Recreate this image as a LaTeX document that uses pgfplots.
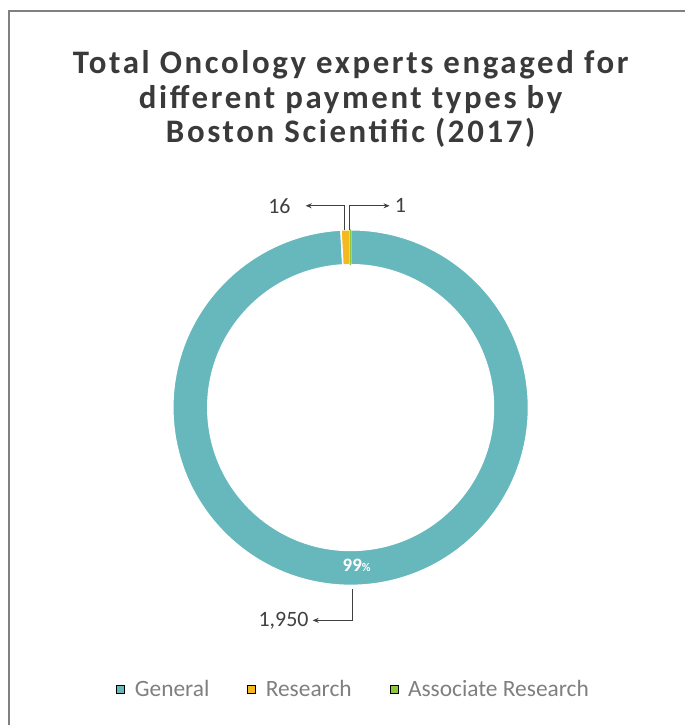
\documentclass[border=0pt]{standalone}
\usepackage{pgfplots}
\pgfplotsset{compat=1.18}
\usepackage{pgfplotstable}
\usetikzlibrary{arrows.meta}
\usepackage{fontspec}
\setmainfont{Carlito}
\newfontfamily\titlefont[LetterSpace=8]{Carlito}

\definecolor{cGen}{RGB}{102,184,188}
\definecolor{cRes}{RGB}{244,185,30}
\definecolor{cAss}{RGB}{141,198,63}
\definecolor{cTitle}{RGB}{58,58,58}
\definecolor{cLab}{RGB}{64,64,64}
\definecolor{cLeg}{RGB}{127,127,127}
\definecolor{cFrame}{RGB}{128,128,128}

\pgfplotstableread{
name value
General 1950
Research 16
AssociateResearch 1
}\donutdata

\begin{document}
\begin{tikzpicture}
\pgfplotstablegetelem{0}{value}\of\donutdata \pgfmathsetmacro\vA{\pgfplotsretval}
\pgfplotstablegetelem{1}{value}\of\donutdata \pgfmathsetmacro\vB{\pgfplotsretval}
\pgfplotstablegetelem{2}{value}\of\donutdata \pgfmathsetmacro\vC{\pgfplotsretval}
\pgfmathsetmacro\tot{\vA+\vB+\vC}
\pgfmathsetmacro\fA{\vA/\tot}
\pgfmathsetmacro\fB{\vB/\tot}
\pgfmathsetmacro\fC{\vC/\tot}
\pgfmathsetmacro\aA{90}
\pgfmathsetmacro\aB{90-360*\fA}
\pgfmathsetmacro\aC{\aB-360*\fB}
\pgfmathsetmacro\aD{\aC-360*\fC}
\pgfmathtruncatemacro\pct{round(100*\fA)}
\begin{axis}[
  x=1bp, y=1bp, xmin=0, xmax=686, ymin=0, ymax=726,
  scale only axis, hide axis, clip=false,
  /pgf/number format/assume math mode=true,
  legend image code/.code={\fill[#1] (0bp,-4bp) rectangle (8bp,4bp);},
  legend style={draw=none, fill=none, legend columns=3,
    at={(0.5146,0.0496)}, anchor=center,
    font=\fontsize{23.5}{26}\selectfont, text=cLeg,
    nodes={inner sep=0bp},
    /tikz/every odd column/.append style={column sep=10bp},
    /tikz/every even column/.append style={column sep=38bp}},
]
\addlegendimage{fill=cGen}\addlegendentry{General}
\addlegendimage{fill=cRes}\addlegendentry{Research}
\addlegendimage{fill=cAss}\addlegendentry{Associate Research}

% donut segments
\fill[cGen, draw=white, line width=1.5bp] (axis cs:351,318) ++(\aA:178bp) arc[start angle=\aA, end angle=\aB, radius=178bp] -- ++(\aB:-35bp) arc[start angle=\aB, end angle=\aA, radius=143bp] -- cycle;
\fill[cRes, draw=white, line width=1.5bp] (axis cs:351,318) ++(\aB:178bp) arc[start angle=\aB, end angle=\aC, radius=178bp] -- ++(\aC:-35bp) arc[start angle=\aC, end angle=\aB, radius=143bp] -- cycle;
\fill[cAss, draw=cAss, line width=1bp] (axis cs:351,318) ++(\aC:178bp) arc[start angle=\aC, end angle=\aD, radius=178bp] -- ++(\aD:-35bp) arc[start angle=\aD, end angle=\aC, radius=143bp] -- cycle;

% leader lines
\draw[cLab, line width=1.2bp, -{Stealth[length=6bp,width=5bp]}] (axis cs:345,496) -- (axis cs:345,520) -- (axis cs:306,520);
\draw[cLab, line width=1.2bp, -{Stealth[length=6bp,width=5bp]}] (axis cs:349.5,496) -- (axis cs:349.5,520) -- (axis cs:390,520);
\draw[cLab, line width=1.2bp, -{Stealth[length=6bp,width=5bp]}] (axis cs:352.7,136) -- (axis cs:352.7,105) -- (axis cs:313,105);
\node[anchor=east, text=cLab, font=\fontsize{22}{24}\selectfont, inner sep=0pt] at (axis cs:291,520) {\pgfmathprintnumber{\vB}};
\node[anchor=west, text=cLab, font=\fontsize{22}{24}\selectfont, inner sep=0pt] at (axis cs:395,520) {\pgfmathprintnumber{\vC}};
\node[anchor=east, text=cLab, font=\fontsize{22}{24}\selectfont, inner sep=0pt] at (axis cs:309,105) {\pgfmathprintnumber{\vA}};
\node[text=white, font=\bfseries\fontsize{19}{22}\selectfont, inner sep=0pt] at (axis cs:357,160) {\pct{\fontsize{12}{14}\selectfont\%}};

% title
\node[anchor=north, align=center, text=cTitle, font=\titlefont\bfseries\fontsize{33}{35}\selectfont, inner sep=0pt] at (axis cs:351,676)
  {Total Oncology experts engaged for\\different payment types by\\Boston Scientific (2017)};
\end{axis}
\draw[cFrame, line width=1.5bp] (9bp,0) -- (9bp,715bp) -- (686bp,715bp);
\path[use as bounding box] (0,0) rectangle (686bp,726bp);
\end{tikzpicture}
\end{document}
